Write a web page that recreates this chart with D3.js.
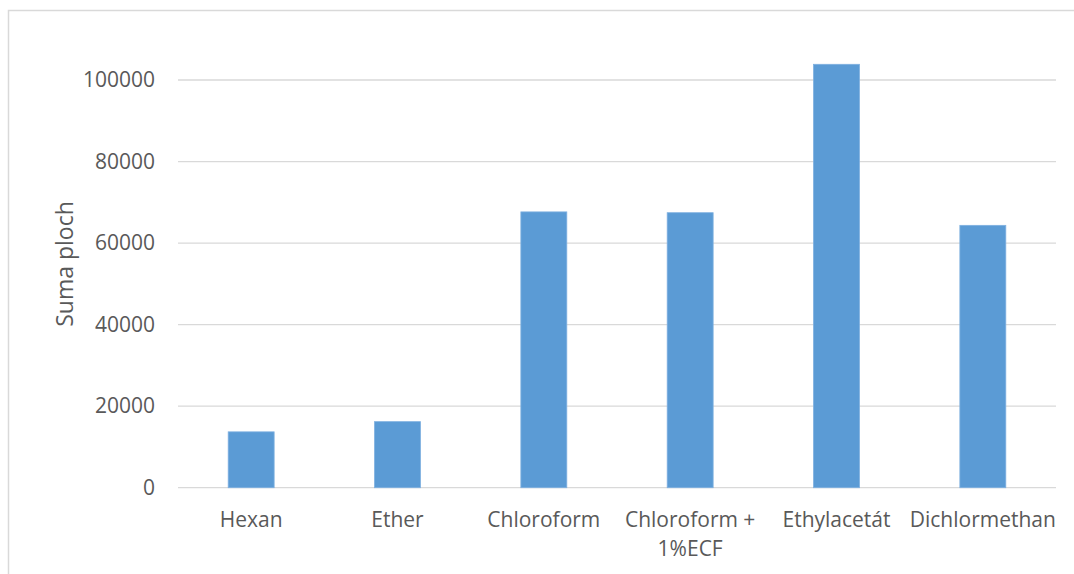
<!DOCTYPE html>
<html>
<head>
<meta charset="utf-8">
<script src="https://cdn.jsdelivr.net/npm/d3@7"></script>
<style>
  html, body { margin: 0; padding: 0; background: #fff; }
  text { font-family: "Open Sans", sans-serif; fill: #595959; }
</style>
</head>
<body>
<svg id="chart"></svg>
<script>
// Data
const categories = ["Hexan", "Ether", "Chloroform", "Chloroform + 1%ECF", "Ethylacetát", "Dichlormethan"];
const values = [13700, 16200, 67650, 67450, 103850, 64350];
const yTicks = [0, 20000, 40000, 60000, 80000, 100000];
const yTitle = "Suma ploch";

// Dimensions
const w = 1074;
const h = 574;
const left = 178, right = 1056, bottom = 487.7;

const svg = d3.select("#chart")
  .attr("width", w)
  .attr("height", h);

// chart frame
svg.append("rect")
  .attr("x", 8.5)
  .attr("y", 10.5)
  .attr("width", w + 10)
  .attr("height", h + 10)
  .attr("fill", "none")
  .attr("stroke", "#d9d9d9")
  .attr("stroke-width", 1.5);

const x = d3.scaleBand()
  .domain(categories)
  .range([left, right])
  .paddingInner(0.686)
  .paddingOuter(0.343);

const y = d3.scaleLinear()
  .domain([0, 100000])
  .range([bottom, 80]);

// gridlines
svg.append("g")
  .selectAll("line")
  .data(yTicks)
  .enter()
  .append("line")
  .attr("x1", left)
  .attr("x2", right)
  .attr("y1", d => y(d))
  .attr("y2", d => y(d))
  .attr("stroke", "#d9d9d9")
  .attr("stroke-width", 1.3);

// y tick labels
const yAxis = svg.append("g")
  .attr("transform", `translate(${left},0)`)
  .call(d3.axisLeft(y).tickValues(yTicks).tickSize(0).tickPadding(23).tickFormat(d3.format("d")));
yAxis.select(".domain").remove();
yAxis.selectAll("text")
  .style("font-size", "21px")
  .attr("fill", "#595959");

// bars
svg.append("g")
  .selectAll("rect")
  .data(values)
  .enter()
  .append("rect")
  .attr("x", (d, i) => x(categories[i]))
  .attr("width", x.bandwidth())
  .attr("y", d => y(d))
  .attr("height", d => y(0) - y(d))
  .attr("fill", "#5b9bd5")
  .attr("stroke", "#7fb0e0")
  .attr("stroke-width", 0.8);

// x labels, wrapped like the original
const xLabels = svg.append("g")
  .selectAll("text")
  .data(categories)
  .enter()
  .append("text")
  .attr("text-anchor", "middle")
  .style("font-size", "21px");

xLabels.selectAll("tspan")
  .data(d => d === "Chloroform + 1%ECF" ? ["Chloroform +", "1%ECF"] : [d])
  .enter()
  .append("tspan")
  .attr("x", function() { const c = d3.select(this.parentNode).datum(); return x(c) + x.bandwidth() / 2; })
  .attr("y", (d, i) => 527 + i * 29)
  .text(d => d);

// y title
svg.append("text")
  .attr("transform", "translate(73,264) rotate(-90)")
  .attr("text-anchor", "middle")
  .style("font-size", "23px")
  .text(yTitle);
</script>
</body>
</html>
